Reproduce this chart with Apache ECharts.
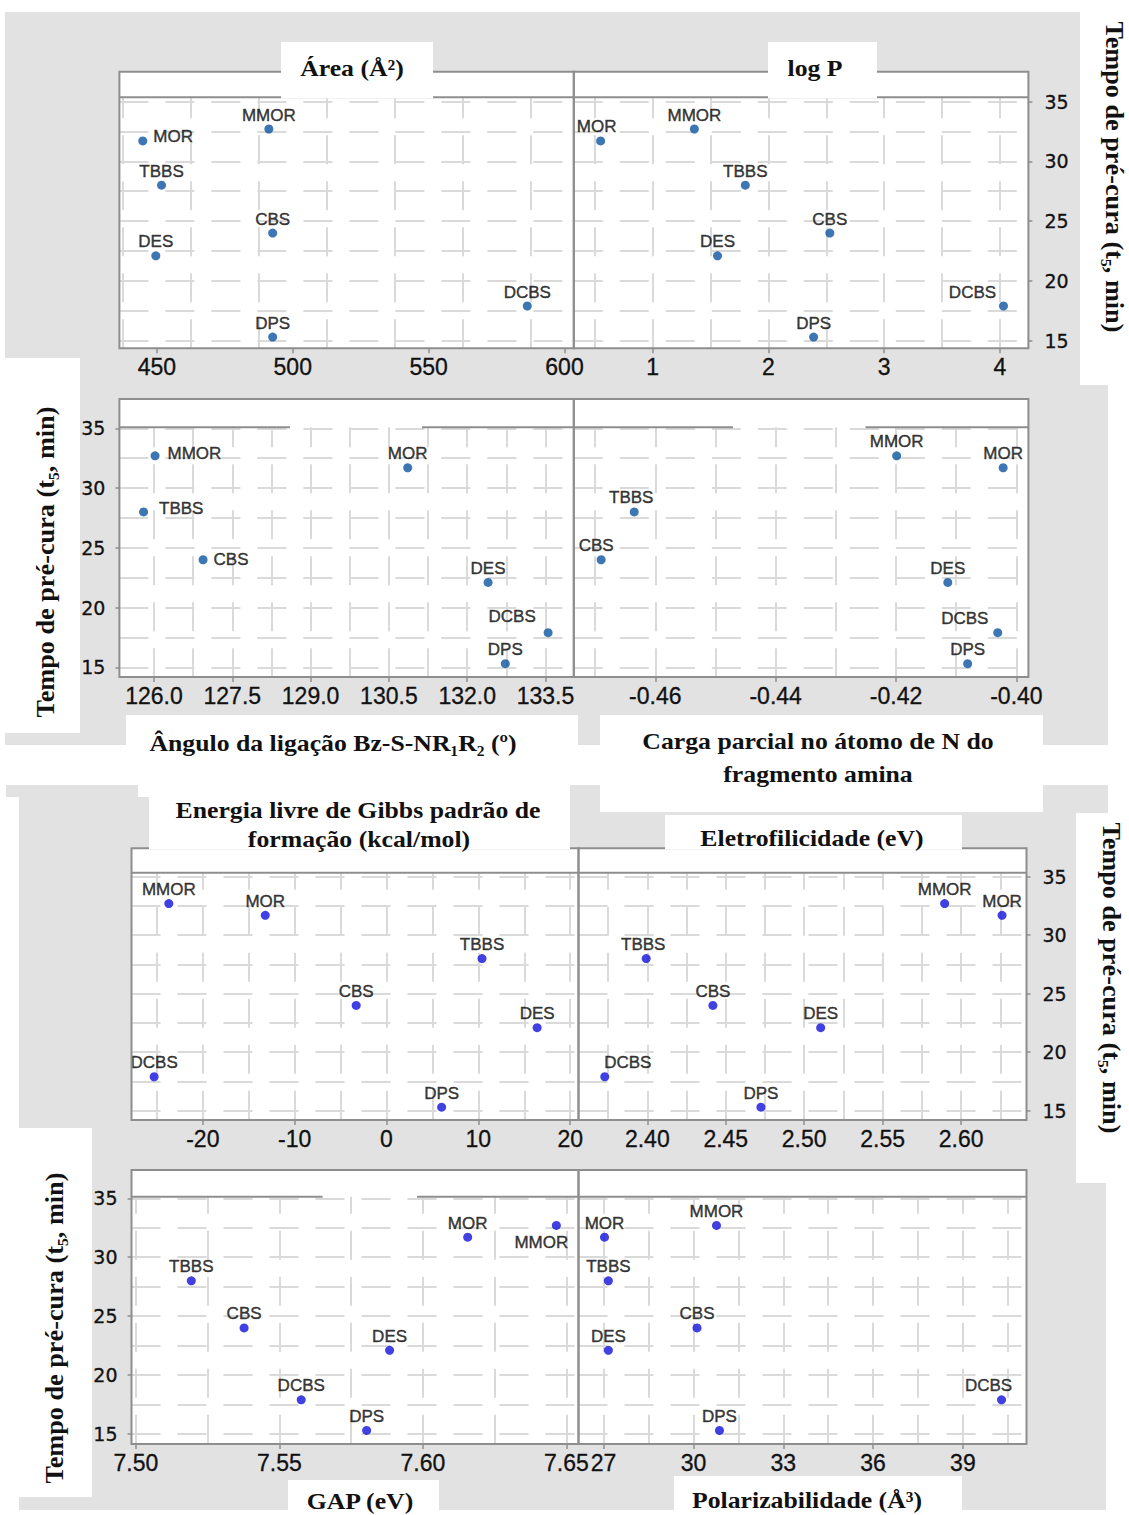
<!DOCTYPE html>
<html><head><meta charset="utf-8">
<script src="https://cdn.jsdelivr.net/npm/echarts@6/dist/echarts.min.js"></script>
<style>html,body{margin:0;padding:0;background:#fff}#c{width:1129px;height:1515px}</style>
</head><body><div id="c"></div><script>
// ---------------- DATA ----------------
const compounds = ['MMOR', 'MOR', 'TBBS', 'CBS', 'DES', 'DCBS', 'DPS'];
const tempo  = [32.7, 31.7, 28.0, 24.0, 22.1, 17.9, 15.3];          // Tempo de pré-cura (t5, min)
const area   = [491.2, 444.8, 451.7, 492.6, 449.6, 586.3, 492.6];    // Área (Å²)
const logP   = [1.36, 0.55, 1.80, 2.53, 1.56, 4.03, 2.39];           // log P
const angulo = [126.02, 130.86, 125.80, 126.94, 132.40, 133.55, 132.73]; // Ângulo Bz-S-NR1R2
const carga  = [-0.4199, -0.4022, -0.4635, -0.4690, -0.4114, -0.4031, -0.4081]; // Carga parcial N
const gibbs  = [-23.7, -13.2, 10.4, -3.3, 16.4, -25.3, 6.0];         // Energia livre de Gibbs
const eletro = [2.5895, 2.6261, 2.3993, 2.4418, 2.5105, 2.3729, 2.4724]; // Eletrofilicidade
const gap    = [7.6465, 7.6156, 7.5193, 7.5377, 7.5884, 7.5576, 7.5804]; // GAP
const polar  = [30.77, 27.03, 27.16, 30.12, 27.16, 40.29, 30.87];    // Polarizabilidade

const tempoTicks  = [15, 20, 25, 30, 35];
const areaTicks   = [450, 500, 550, 600];
const logPTicks   = [1, 2, 3, 4];
const anguloTicks = [126.0, 127.5, 129.0, 130.5, 132.0, 133.5];
const cargaTicks  = [-0.46, -0.44, -0.42, -0.40];
const gibbsTicks  = [-20, -10, 0, 10, 20];
const eletroTicks = [2.40, 2.45, 2.50, 2.55, 2.60];
const gapTicks    = [7.50, 7.55, 7.60, 7.65];
const polarTicks  = [27, 30, 33, 36, 39];

// ---------------- LAYOUT / STYLE ----------------
const GRAY = '#e2e2e2', FRAME = '#8e8e8e', GRID = '#dadada', TXT = '#111';
const SERIF = '"Liberation Serif", "Times New Roman", serif';
const SANS = '"Liberation Sans", Arial, sans-serif';
const DASH = [29, 17], PER = 46;

const rows = [
  {p35: 101.5, p15: 340.7, top: 71.7, strip: 97.3, bottom: 348.3, cols: [119.4, 573.8, 1028.4], color: '#0b55a0'},
  {p35: 428.3, p15: 667.3, top: 399, strip: 427.3, bottom: 677, cols: [119.4, 573.8, 1028.4], color: '#0b55a0'},
  {p35: 876.7, p15: 1110.7, top: 848.3, strip: 872.7, bottom: 1120, cols: [131.5, 578.5, 1026.5], color: '#1010dc'},
  {p35: 1198.3, p15: 1434, top: 1170, strip: 1196.7, bottom: 1444, cols: [131.5, 578.5, 1026.5], color: '#1010dc'}
];
const stripGaps = {'1-0': [290, 422], '1-1': [733, 865.5], '3-0': [322.6, 417]};

const f0 = v => String(v), f1 = v => v.toFixed(1), f2 = v => v.toFixed(2);
const panels = [
  {id: 'A', x: area,   ticks: areaTicks,   fmt: f0, cal: [450, 156.9, 600, 564.5],     grid: [437.5, 600, 25],      row: 0, col: 0, yPos: null},
  {id: 'B', x: logP,   ticks: logPTicks,   fmt: f0, cal: [1, 652.7, 4, 1000],          grid: [0.5, 4, 0.5],         row: 0, col: 1, yPos: 'right'},
  {id: 'C', x: angulo, ticks: anguloTicks, fmt: f1, cal: [126, 154, 133.5, 545.5],     grid: [126, 133.5, 0.75],    row: 1, col: 0, yPos: 'left'},
  {id: 'D', x: carga,  ticks: cargaTicks,  fmt: f2, cal: [-0.46, 655.3, -0.40, 1016.4], grid: [-0.47, -0.40, 0.01], row: 1, col: 1, yPos: null},
  {id: 'E', x: gibbs,  ticks: gibbsTicks,  fmt: f0, cal: [-20, 202.8, 20, 570.2],      grid: [-25, 20, 5],          row: 2, col: 0, yPos: null},
  {id: 'F', x: eletro, ticks: eletroTicks, fmt: f2, cal: [2.40, 647.3, 2.60, 961.1],   grid: [2.375, 2.625, 0.025], row: 2, col: 1, yPos: 'right'},
  {id: 'G', x: gap,    ticks: gapTicks,    fmt: f2, cal: [7.50, 135.9, 7.65, 566.4],   grid: [7.5, 7.65, 0.025],    row: 3, col: 0, yPos: 'left'},
  {id: 'H', x: polar,  ticks: polarTicks,  fmt: f0, cal: [27, 603.6, 39, 962.9],       grid: [27, 40.5, 1.5],       row: 3, col: 1, yPos: null}
];
// label placement: [position, distance, offset]
const labelPlacement = {
  A: {MOR: ['right', 6, [0, -4]]},
  B: {MOR: ['top', 1, [-4, 0]], DCBS: ['top', 1, [-31, 0]]},
  C: {MMOR: ['right', 8, [0, -2]], TBBS: ['right', 11, [0, -3]], CBS: ['right', 6, [0, 0]], DCBS: ['top', 1, [-36, -2]]},
  D: {DCBS: ['top', 1, [-33, 0]], CBS: ['top', 1, [-5, 0]], TBBS: ['top', 1, [-3, 0]]},
  E: {},
  F: {DCBS: ['top', 1, [23, 0]], TBBS: ['top', 1, [-3, 0]]},
  G: {MMOR: ['bottom', 1, [-15, 3]]},
  H: {DCBS: ['top', 1, [-13, 0]]}
};

const steps = (a, b, s) => { const o = []; const n = Math.round((b - a) / s); for (let i = 0; i <= n; i++) o.push(+(a + i * s).toFixed(6)); return o; };
const yGridVals = steps(15, 35, 2.5);

const grids = [], xAxes = [], yAxes = [], series = [], gfx = [];
const rect = (x, y, w, h, fill, z) => ({type: 'rect', shape: {x, y, width: w, height: h}, style: {fill}, z, silent: true});

// backgrounds (top figure)
gfx.push(rect(5, 12, 1075, 733, GRAY, -9));
gfx.push(rect(1080, 385, 28, 360, GRAY, -9));
gfx.push(rect(5, 358, 75, 375, '#fff', -8));
gfx.push(rect(126, 715, 452, 70, '#fff', -8));
// backgrounds (bottom figure)
gfx.push(rect(19, 797, 1057, 713, GRAY, -9));
gfx.push(rect(6, 785, 132, 12, GRAY, -9));
gfx.push(rect(565, 785, 35, 28, GRAY, -9));
gfx.push(rect(1043, 785, 65, 28, GRAY, -9));
gfx.push(rect(1076, 1183, 30, 327, GRAY, -9));
gfx.push(rect(600, 715, 443, 97, '#fff', -8));
gfx.push(rect(19, 1128, 73, 369, '#fff', -8));
gfx.push(rect(288, 1480, 151, 35, '#fff', -8));
gfx.push(rect(674, 1476, 288, 39, '#fff', -8));

panels.forEach((p, i) => {
  const r = rows[p.row];
  const x0 = r.cols[p.col], x1 = r.cols[p.col + 1];
  const [t0, q0, t1, q1] = p.cal;
  const k = (t1 - t0) / (q1 - q0);
  const xmin = t0 + (x0 - q0) * k, xmax = t0 + (x1 - q0) * k;
  const ky = 20 / (r.p15 - r.p35);
  const ymax = 35 + (r.p35 - r.strip) * ky, ymin = 15 - (r.bottom - r.p15) * ky;
  const H = r.bottom - r.strip;
  const vOff = ((-(H - DASH[0])) % PER + PER) % PER;

  grids.push({left: x0, top: r.strip, width: x1 - x0, height: H, containLabel: false, show: false});

  const xm = xAxes.length;
  xAxes.push({type: 'value', gridIndex: i, min: xmin, max: xmax, position: 'bottom',
    axisLine: {show: false, onZero: false},
    axisTick: {show: true, length: 5, customValues: p.ticks, lineStyle: {color: FRAME, width: 1.5}},
    axisLabel: {customValues: p.ticks, formatter: p.fmt, margin: 7, fontFamily: SANS, fontSize: 23, color: TXT,
      textBorderColor: TXT, textBorderWidth: 0.3},
    splitLine: {show: false}});
  xAxes.push({type: 'value', gridIndex: i, min: xmin, max: xmax, position: 'top',
    axisLine: {show: false, onZero: false},
    axisTick: {show: false, customValues: steps(p.grid[0], p.grid[1], p.grid[2])},
    axisLabel: {show: false},
    splitLine: {show: true, lineStyle: {color: GRID, width: 2, type: DASH, dashOffset: vOff}}});

  if (p.yPos) {
    yAxes.push({type: 'value', gridIndex: i, min: ymin, max: ymax, position: p.yPos,
      axisLine: {show: false, onZero: false},
      axisTick: {show: true, length: 4, customValues: tempoTicks, lineStyle: {color: FRAME, width: 1.5}},
      axisLabel: {customValues: tempoTicks, margin: p.yPos === 'right' ? 16 : 14, fontFamily: '"DejaVu Sans", sans-serif', fontSize: 19, color: TXT,
        textBorderColor: TXT, textBorderWidth: 0.3},
      splitLine: {show: false}});
  }
  const yg = yAxes.length;
  yAxes.push({type: 'value', gridIndex: i, min: ymin, max: ymax, position: p.yPos === 'right' ? 'left' : 'right',
    axisLine: {show: false, onZero: false},
    axisTick: {show: false, customValues: yGridVals},
    axisLabel: {show: false},
    splitLine: {show: true, lineStyle: {color: GRID, width: 2, type: DASH, dashOffset: 0}}});

  series.push({type: 'scatter', xAxisIndex: xm, yAxisIndex: yg, symbol: 'circle', symbolSize: 9,
    itemStyle: {color: r.color}, silent: true,
    label: {show: true, formatter: '{b}', position: 'top', distance: 1, fontFamily: SANS, fontSize: 17, color: '#0a0a0a',
      textBorderColor: '#0a0a0a', textBorderWidth: 0.45},
    data: compounds.map((n, j) => {
      const d = {name: n, value: [p.x[j], tempo[j]]};
      const lp = labelPlacement[p.id][n];
      if (lp) d.label = {position: lp[0], distance: lp[1], offset: lp[2]};
      return d;
    })});

  // panel frame
  gfx.push(rect(x0, r.top, x1 - x0, r.bottom - r.top, '#fff', -7));
  gfx.push({type: 'rect', shape: {x: x0, y: r.top, width: x1 - x0, height: r.bottom - r.top}, style: {fill: 'none', stroke: FRAME, lineWidth: 2}, z: 5, silent: true});
  const g = stripGaps[p.row + '-' + p.col];
  const segs = g ? [[x0, g[0]], [g[1], x1]] : [[x0, x1]];
  segs.forEach(s => gfx.push({type: 'line', shape: {x1: s[0], y1: r.strip, x2: s[1], y2: r.strip}, style: {stroke: FRAME, lineWidth: 2}, z: 5, silent: true}));
});

// title boxes (cover frame lines)
gfx.push(rect(281, 42, 152, 56.5, '#fff', 8));
gfx.push(rect(768, 42, 109, 56.5, '#fff', 8));
gfx.push(rect(149, 785, 421, 64.5, '#fff', 8));
gfx.push(rect(665, 815, 297, 34.5, '#fff', 8));

const title = (text, x, y, size, rot) => ({type: 'text', x, y, rotation: rot || 0, scaleX: rot ? 1.05 : 1.12, z: 9, silent: true,
  style: {text, fontFamily: SERIF, fontWeight: 'bold', fontSize: size, fill: TXT, align: 'center', verticalAlign: 'middle'}});
gfx.push(title('Área (Å²)', 352, 68, 23));
gfx.push(title('log P', 815, 68, 23));
gfx.push(title('Ângulo da ligação Bz-S-NR₁R₂ (º)', 333, 743, 23));
gfx.push(title('Carga parcial no átomo de N do', 818, 741, 23));
gfx.push(title('fragmento amina', 818, 774, 23));
gfx.push(title('Energia livre de Gibbs padrão de', 358, 810, 23));
gfx.push(title('formação (kcal/mol)', 359, 839, 23));
gfx.push(title('Eletrofilicidade (eV)', 812, 838, 23));
gfx.push(title('GAP (eV)', 360, 1501, 23));
gfx.push(title('Polarizabilidade (Å³)', 807, 1500, 23));
const yTitle = 'Tempo de pré-cura (t₅, min)';
gfx.push(title(yTitle, 46, 562, 25, Math.PI / 2));
gfx.push(title(yTitle, 55, 1328, 25, Math.PI / 2));
gfx.push(title(yTitle, 1114, 177, 25, -Math.PI / 2));
gfx.push(title(yTitle, 1111, 978, 25, -Math.PI / 2));

const chart = echarts.init(document.getElementById('c'), null, {renderer: 'svg'});
chart.setOption({
  animation: false,
  backgroundColor: '#fff',
  grid: grids, xAxis: xAxes, yAxis: yAxes, series,
  graphic: {elements: gfx}
});
</script></body></html>
